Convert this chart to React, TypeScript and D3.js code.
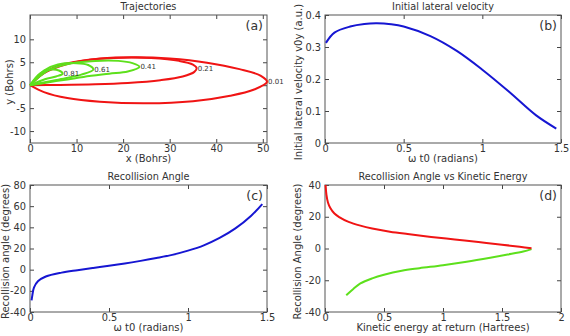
import { useEffect, useRef } from 'react';
import * as d3 from 'd3';

type Pt = [number, number];

// (a) trajectories, one loop per omega t0
const trajLabels = ['0.01', '0.21', '0.41', '0.61', '0.81'];
const trajColors = ['#f01414', '#f01414', '#5de01c', '#5de01c', '#5de01c'];
const traj001: Pt[] = [
  [0, 0], [3, -1.5], [8, -2.8], [15, -3.6], [25, -3.95], [35, -3.5], [43, -2.3], [48, -1.0],
  [50.9, 0.7], [49.5, 2.1], [45, 3.5], [38, 4.9], [30, 5.8], [23, 6.1], [15, 5.8], [8, 4.6], [3, 2.6], [0, 0],
];
const traj021: Pt[] = [
  [0, 0], [6, 0.05], [14, 0.2], [21, 0.5], [28, 1.1], [32.8, 1.9], [35.3, 2.9], [35.8, 3.7],
  [35, 4.5], [32, 5.3], [26, 5.9], [20, 6.0], [13, 5.6], [7, 4.5], [3, 2.7], [0, 0],
];
const traj041: Pt[] = [
  [0, 0], [5, 0.8], [11.5, 1.8], [17, 2.5], [21, 3.0], [23.5, 4.0],
  [22, 4.8], [19, 5.3], [14, 5.3], [9, 4.8], [4, 3.3], [0, 0],
];
const traj061: Pt[] = [
  [0, 0], [4, 0.8], [7.6, 1.5], [11, 2.3], [13.6, 3.4],
  [12.5, 4.4], [10, 4.8], [6, 4.5], [3, 3.2], [0, 0],
];
const traj081: Pt[] = [
  [0, 0], [3.2, 1.3], [5.6, 1.9], [7, 2.5], [6.2, 3.2], [4.5, 3.4], [2.2, 2.6], [0, 0],
];
const trajectories = [traj001, traj021, traj041, traj061, traj081];

// (b) initial lateral velocity vs omega t0
const velocity: Pt[] = [
  [0.006, 0.313], [0.06, 0.345], [0.16, 0.364], [0.25, 0.372], [0.33, 0.374], [0.42, 0.371],
  [0.5, 0.364], [0.67, 0.334], [0.84, 0.287], [1.0, 0.229], [1.17, 0.16], [1.34, 0.087], [1.47, 0.045],
];

// (c) recollision angle vs omega t0
const recollision: Pt[] = [
  [0.01, -29], [0.015, -24], [0.025, -17], [0.05, -11], [0.1, -6.5], [0.2, -2.8], [0.3, -0.5],
  [0.4, 1.6], [0.5, 3.6], [0.6, 5.8], [0.7, 8.3], [0.8, 11], [0.9, 14], [1.0, 18], [1.1, 23],
  [1.2, 30], [1.3, 39], [1.4, 51], [1.47, 62],
];

// (d) recollision angle vs kinetic energy
const energyRed: Pt[] = [
  [0.005, 40], [0.012, 34], [0.025, 29], [0.045, 25.5], [0.08, 22], [0.12, 19.8], [0.2, 16.8],
  [0.3, 14.4], [0.4, 12.6], [0.55, 10.6], [0.7, 9.1], [0.9, 7.3], [1.1, 5.7], [1.3, 4.1],
  [1.5, 2.4], [1.65, 1.1], [1.75, 0.1],
];
const energyGreen: Pt[] = [
  [0.18, -29.5], [0.24, -25.5], [0.3, -22], [0.4, -18.8], [0.5, -16.5], [0.65, -14], [0.8, -12.4],
  [1.0, -10.5], [1.2, -8.3], [1.4, -5.8], [1.55, -3.8], [1.68, -1.9], [1.75, -0.4],
];

const FONT = 'DejaVu Sans, sans-serif';

interface PanelOpts {
  box: [number, number, number, number]; // left, right, top, bottom
  xDomain: [number, number];
  yDomain: [number, number];
  xTicks: number[];
  yTicks: number[];
  title: string;
  xLabel: string;
  yLabel: string;
  yLabelOffset: number; // distance of rotated label baseline from the left spine
  tag: string;
}

function drawPanel(svg: d3.Selection<SVGSVGElement, unknown, null, undefined>, o: PanelOpts) {
  const [l, r, t, b] = o.box;
  const x = d3.scaleLinear().domain(o.xDomain).range([l, r]);
  const y = d3.scaleLinear().domain(o.yDomain).range([b, t]);
  const g = svg.append('g');

  const styleAxis = (sel: d3.Selection<SVGGElement, unknown, null, undefined>) => {
    sel.attr('font-family', FONT).attr('font-size', 9.8);
    sel.select('.domain').remove();
    sel.selectAll('line').attr('stroke', '#444');
    sel.selectAll('text').attr('fill', '#333');
  };

  g.append('g').attr('transform', `translate(0,${b})`)
    .call(d3.axisBottom(x).tickValues(o.xTicks).tickSize(-4).tickPadding(2).tickFormat((d) => String(d)))
    .call(styleAxis);
  g.append('g').attr('transform', `translate(0,${t})`)
    .call(d3.axisTop(x).tickValues(o.xTicks).tickSize(-4).tickFormat(() => ''))
    .call(styleAxis);
  g.append('g').attr('transform', `translate(${l},0)`)
    .call(d3.axisLeft(y).tickValues(o.yTicks).tickSize(-4).tickPadding(4).tickFormat((d) => String(d)))
    .call(styleAxis);
  g.append('g').attr('transform', `translate(${r},0)`)
    .call(d3.axisRight(y).tickValues(o.yTicks).tickSize(-4).tickFormat(() => ''))
    .call(styleAxis);

  g.append('rect')
    .attr('x', l).attr('y', t).attr('width', r - l).attr('height', b - t)
    .attr('fill', 'none').attr('stroke', '#555').attr('stroke-width', 1);

  const txt = (tx: string, px: number, py: number, size: number, anchor = 'middle') =>
    g.append('text').attr('x', px).attr('y', py).attr('font-family', FONT).attr('font-size', size)
      .attr('fill', '#333').attr('text-anchor', anchor).text(tx);

  txt(o.title, (l + r) / 2, t - 5, 9.7);
  txt(o.xLabel, (l + r) / 2, b + 18.5, 10);
  g.append('text')
    .attr('transform', `translate(${l - o.yLabelOffset},${(t + b) / 2 + 3}) rotate(-90)`)
    .attr('font-family', FONT).attr('font-size', 10).attr('fill', '#333')
    .attr('text-anchor', 'middle').text(o.yLabel);
  txt(o.tag, r - 4, t + 15, 12.5, 'end');

  return { g, x, y };
}

export default function App() {
  const svgRef = useRef<SVGSVGElement>(null);

  useEffect(() => {
    document.body.style.margin = '0';
    if (!svgRef.current) return;
    const svg = d3.select(svgRef.current);
    svg.selectAll('*').remove();

    // (a)
    const a = drawPanel(svg, {
      box: [30, 267, 15, 143], xDomain: [0, 50.9], yDomain: [-12.6, 15.3],
      xTicks: [0, 10, 20, 30, 40, 50], yTicks: [-10, -5, 0, 5, 10],
      title: 'Trajectories', xLabel: 'x (Bohrs)', yLabel: 'y (Bohrs)', yLabelOffset: 17, tag: '(a)',
    });
    const trajLine = d3.line<Pt>().x((d) => a.x(d[0])).y((d) => a.y(d[1])).curve(d3.curveCatmullRom);
    trajectories.forEach((tr, i) => {
      a.g.append('path').attr('d', trajLine(tr)).attr('fill', 'none')
        .attr('stroke', trajColors[i]).attr('stroke-width', 2);
    });
    trajectories.forEach((tr, i) => {
      const tip = tr.reduce((m, p) => (p[0] > m[0] ? p : m), tr[0]);
      a.g.append('text').attr('x', a.x(tip[0]) + 1).attr('y', a.y(tip[1]) + 2.5)
        .attr('font-family', FONT).attr('font-size', 7).attr('fill', '#333').text(trajLabels[i]);
    });

    // (b)
    const bp = drawPanel(svg, {
      box: [325, 561, 15, 143], xDomain: [0, 1.5], yDomain: [0, 0.4],
      xTicks: [0, 0.5, 1, 1.5], yTicks: [0, 0.1, 0.2, 0.3, 0.4],
      title: 'Initial lateral velocity', xLabel: 'ω t0 (radians)',
      yLabel: 'Initial lateral velocity v0y (a.u.)', yLabelOffset: 23, tag: '(b)',
    });
    bp.g.append('path')
      .attr('d', d3.line<Pt>().x((d) => bp.x(d[0])).y((d) => bp.y(d[1])).curve(d3.curveCatmullRom)(velocity))
      .attr('fill', 'none').attr('stroke', '#1616d2').attr('stroke-width', 2);

    // (c)
    const c = drawPanel(svg, {
      box: [30, 267, 185, 312], xDomain: [0, 1.5], yDomain: [-40, 80],
      xTicks: [0, 0.5, 1, 1.5], yTicks: [-40, -20, 0, 20, 40, 60, 80],
      title: 'Recollision Angle', xLabel: 'ω t0 (radians)',
      yLabel: 'Recollision angle (degrees)', yLabelOffset: 21.5, tag: '(c)',
    });
    c.g.append('path')
      .attr('d', d3.line<Pt>().x((d) => c.x(d[0])).y((d) => c.y(d[1])).curve(d3.curveCatmullRom)(recollision))
      .attr('fill', 'none').attr('stroke', '#1616d2').attr('stroke-width', 2);

    // (d)
    const dp = drawPanel(svg, {
      box: [325, 561, 185, 312], xDomain: [0, 2], yDomain: [-40, 40],
      xTicks: [0, 0.5, 1, 1.5, 2], yTicks: [-40, -20, 0, 20, 40],
      title: 'Recollision Angle vs Kinetic Energy', xLabel: 'Kinetic energy at return (Hartrees)',
      yLabel: 'Recollision Angle (degrees)', yLabelOffset: 24, tag: '(d)',
    });
    const eLine = d3.line<Pt>().x((d) => dp.x(d[0])).y((d) => dp.y(d[1])).curve(d3.curveCatmullRom);
    dp.g.append('path').attr('d', eLine(energyGreen)).attr('fill', 'none')
      .attr('stroke', '#5de01c').attr('stroke-width', 2);
    dp.g.append('path').attr('d', eLine(energyRed)).attr('fill', 'none')
      .attr('stroke', '#f01414').attr('stroke-width', 2);
  }, []);

  return <svg ref={svgRef} width={570} height={336} style={{ display: 'block', background: '#fff' }} />;
}
